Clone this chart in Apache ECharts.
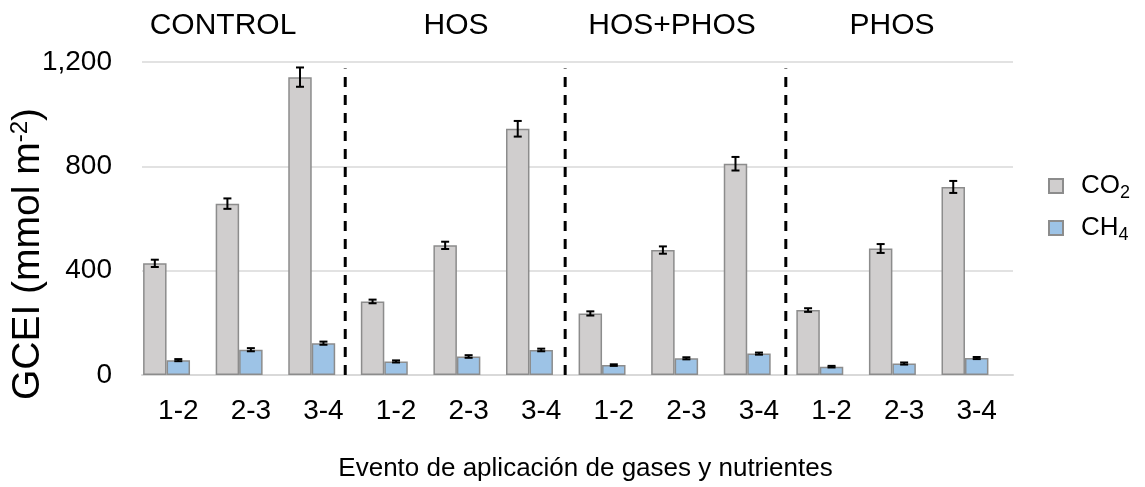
<!DOCTYPE html>
<html>
<head>
<meta charset="utf-8">
<script src="https://cdn.jsdelivr.net/npm/echarts@6/dist/echarts.min.js"></script>
<style>
html,body{margin:0;padding:0;background:#fff;}
#chart{width:1145px;height:487px;}
</style>
</head>
<body>
<div id="chart"></div>
<script>
// ---- data ----
const categories = ['1-2','2-3','3-4','1-2','2-3','3-4','1-2','2-3','3-4','1-2','2-3','3-4'];
const groups = ['CONTROL','HOS','HOS+PHOS','PHOS'];
const co2 = [428, 657, 1142, 282, 497, 944, 236, 479, 810, 249, 485, 721];
const co2Err = [14, 20, 37, 7, 14, 30, 8, 14, 26, 7, 17, 23];
const ch4 = [57, 97, 122, 52, 71, 96, 38, 64, 82, 32, 44, 65];
const ch4Err = [4, 6, 6, 4, 5, 5, 3, 4, 4, 3, 4, 4];
const yMin = 0, yMax = 1200, yStep = 400;
const separators = [2.8, 5.83, 8.87];   // positions along x in category units
const separatorTop = 1175;

// ---- layout ----
const FONT = "'Liberation Sans', Arial, sans-serif";
const groupTitleX = [223, 456, 672, 892];
const chart = echarts.init(document.getElementById('chart'), null, {renderer: 'canvas'});

function errSeries(vals, errs, slot) {
  return {
    type: 'custom',
    xAxisIndex: 0, yAxisIndex: 0,
    z: 10,
    silent: true,
    data: vals.map((v, i) => [i, v, errs[i]]),
    renderItem: function (params, api) {
      const i = api.value(0), v = api.value(1), e = api.value(2);
      const band = api.size([1, 0])[0];
      const w = band * 0.97 / 3;
      const c = api.coord([i, v]);
      const x = c[0] + slot * w;
      const yt = api.coord([i, v + e])[1];
      const yb = api.coord([i, v - e])[1];
      const cap = 4;
      const st = {stroke: '#000', lineWidth: 2};
      return {type: 'group', children: [
        {type: 'line', shape: {x1: x, y1: yt, x2: x, y2: yb}, style: st},
        {type: 'line', shape: {x1: x - cap, y1: yt, x2: x + cap, y2: yt}, style: st},
        {type: 'line', shape: {x1: x - cap, y1: yb, x2: x + cap, y2: yb}, style: st}
      ]};
    }
  };
}

const sepSeries = separators.map(s => ({
  type: 'line',
  xAxisIndex: 1, yAxisIndex: 0,
  silent: true,
  symbol: 'none',
  z: 5,
  lineStyle: {color: '#000', width: 3, type: [10, 8]},
  data: [[s, yMin], [s, separatorTop]]
}));

const option = {
  backgroundColor: '#fff',
  animation: false,
  grid: {left: 142, right: 132, top: 62, bottom: 100, containLabel: false},
  legend: {
    orient: 'vertical',
    left: 1048, top: 173,
    padding: 0,
    icon: 'rect',
    itemWidth: 14, itemHeight: 14, itemGap: 13,
    data: ['CO2', 'CH4'],
    formatter: n => n === 'CO2' ? '{b|CO}{s|2}' : '{b|CH}{s|4}',
    textStyle: {
      fontSize: 26, fontFamily: FONT, color: '#000',
      padding: [0, 0, 0, 13],
      rich: {
        b: {fontSize: 26, fontFamily: FONT, color: '#000'},
        s: {fontSize: 18, fontFamily: FONT, color: '#000', padding: [14, 0, 0, 0]}
      }
    }
  },
  xAxis: [{
    type: 'category',
    data: categories,
    axisLine: {show: true, lineStyle: {color: '#d9d9d9', width: 2}},
    axisTick: {show: false},
    axisLabel: {fontSize: 28, fontFamily: FONT, color: '#000', margin: 22, interval: 0},
    name: 'Evento de aplicación de gases y nutrientes',
    nameLocation: 'middle',
    nameGap: 81,
    nameTextStyle: {fontSize: 26, fontFamily: FONT, color: '#000', padding: [0, 0, 0, 16]}
  }, {
    type: 'value', min: 0, max: categories.length, show: false
  }],
  yAxis: {
    type: 'value',
    min: yMin, max: yMax, interval: yStep,
    axisLine: {show: false},
    axisTick: {show: false},
    splitLine: {lineStyle: {color: '#d9d9d9', width: 1.5}},
    axisLabel: {
      fontSize: 28, fontFamily: FONT, color: '#000', margin: 30,
      formatter: v => v.toLocaleString('en-US')
    }
  },
  graphic: [
    {
      type: 'text', x: 28, y: 254, rotation: Math.PI / 2,
      style: {
        text: 'GCEI (mmol m{s|-2})',
        fontSize: 39, fontFamily: FONT, fill: '#000',
        align: 'center', verticalAlign: 'middle',
        rich: {s: {fontSize: 24, fontFamily: FONT, fill: '#000', padding: [0, 0, 16, 0]}}
      }
    }
  ].concat(groups.map((g, k) => ({
    type: 'text', x: groupTitleX[k], y: 26,
    style: {text: g, fontSize: 30, fontFamily: FONT, fill: '#000', align: 'center', verticalAlign: 'middle'}
  }))),
  series: [
    {
      name: 'CO2', type: 'bar', data: co2,
      barGap: '0%', barCategoryGap: '3%',
      itemStyle: {color: '#d0cece', borderColor: '#8c8c8c', borderWidth: 1.5}
    },
    {
      name: 'CH4', type: 'bar', data: ch4,
      itemStyle: {color: '#9dc3e6', borderColor: '#8c8c8c', borderWidth: 1.5}
    },
    {
      name: 'pad', type: 'bar', data: categories.map(() => '-'),
      itemStyle: {color: 'rgba(0,0,0,0)', borderWidth: 0}
    },
    errSeries(co2, co2Err, -1),
    errSeries(ch4, ch4Err, 0)
  ].concat(sepSeries)
};
chart.setOption(option);
</script>
</body>
</html>
